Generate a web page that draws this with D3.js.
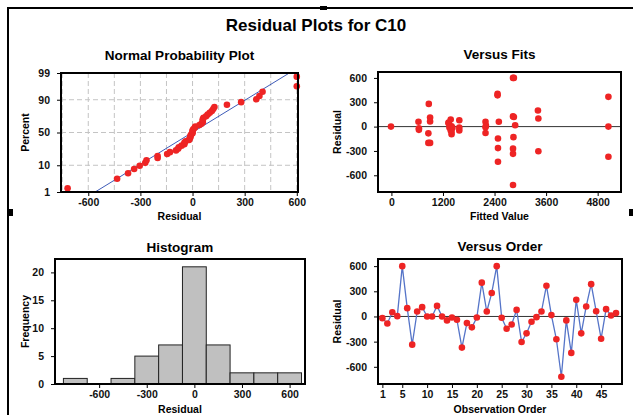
<!DOCTYPE html>
<html>
<head>
<meta charset="utf-8">
<script src="https://cdn.jsdelivr.net/npm/d3@7"></script>
<style>
  body { margin: 0; background: #fff; }
  svg { display: block; font-family: "Liberation Sans", Arial, sans-serif; }
  .axis text { font-size: 10.5px; font-weight: bold; fill: #111; }
  .axis line { stroke: #000; }
  .ptitle { font-size: 13.5px; font-weight: bold; fill: #000; text-anchor: middle; }
  .atitle { font-size: 10.5px; font-weight: bold; fill: #000; text-anchor: middle; }
</style>
</head>
<body>
<div id="chart"></div>
<script>
// residuals in observation order (read from "Versus Order")
const residuals = [-20, -83, 51, 4, 600, 99, -336, 59, 111, 0,
  0, 126, 0, -47, -12, -40, -371, -79, -130, -12,
  403, 59, 280, 600, -16, -146, -95, 78, -304, -201,
  -63, -8, 59, 367, 16, -272, -719, -47, -434, 198,
  -201, 119, 385, 63, -265, 87, 12, 40];
// fitted values for the same observations (read from "Versus Fits")
const fits = [640, 860, 1330, 1400, 2830, 3420, 2830, 630, 900, -10,
  5050, 2830, 1380, 1580, 1350, 640, 5050, 2190, 2840, 1580,
  2470, 2190, 870, 2850, 1420, 2480, 1400, 1580, 3420, 860,
  1400, 2190, 2500, 5050, 2880, 2830, 2830, 1380, 2480, 3410,
  900, 2850, 2470, 900, 2480, 1380, 2200, 1330];

const residTicks = [-600, -300, 0, 300, 600];
const pctTicks = [1, 10, 50, 90, 99];
const fitTicks = [0, 1200, 2400, 3600, 4800];
const freqTicks = [0, 5, 10, 15, 20];
const orderTicks = [1, 5, 10, 15, 20, 25, 30, 35, 40, 45];
const histEdges = [-825, -675, -525, -375, -225, -75, 75, 225, 375, 525, 675];

const width = 633;
const height = 415;
const red = '#ee2424';

// inverse normal cdf (Acklam)
function qnorm(p) {
  const a = [-3.969683028665376e+01, 2.209460984245205e+02, -2.759285104469687e+02, 1.383577518672690e+02, -3.066479806614716e+01, 2.506628277459239e+00];
  const b = [-5.447609879822406e+01, 1.615858368580409e+02, -1.556989798598866e+02, 6.680131188771972e+01, -1.328068155288572e+01];
  const c = [-7.784894002430293e-03, -3.223964580411365e-01, -2.400758277161838e+00, -2.549732539343734e+00, 4.374664141464968e+00, 2.938163982698783e+00];
  const d = [7.784695709041462e-03, 3.224671290700398e-01, 2.445134137142996e+00, 3.754408661907416e+00];
  const pl = 0.02425;
  if (p < pl) {
    const q = Math.sqrt(-2 * Math.log(p));
    return (((((c[0]*q+c[1])*q+c[2])*q+c[3])*q+c[4])*q+c[5]) / ((((d[0]*q+d[1])*q+d[2])*q+d[3])*q+1);
  }
  if (p > 1 - pl) {
    const q = Math.sqrt(-2 * Math.log(1 - p));
    return -(((((c[0]*q+c[1])*q+c[2])*q+c[3])*q+c[4])*q+c[5]) / ((((d[0]*q+d[1])*q+d[2])*q+d[3])*q+1);
  }
  const q = p - 0.5, r = q * q;
  return (((((a[0]*r+a[1])*r+a[2])*r+a[3])*r+a[4])*r+a[5])*q / (((((b[0]*r+b[1])*r+b[2])*r+b[3])*r+b[4])*r+1);
}

const svg = d3.select('#chart').append('svg')
  .attr('width', width)
  .attr('height', height);

// graph window frame + handles
svg.append('path')
  .attr('d', 'M8,' + height + 'V8H' + width)
  .attr('fill', 'none')
  .attr('stroke', '#000')
  .attr('stroke-width', 2);
[[320, 6, 7, 4], [8, 209, 5, 7], [629, 209, 4, 7]].forEach(r => {
  svg.append('rect').attr('x', r[0]).attr('y', r[1]).attr('width', r[2]).attr('height', r[3]).attr('fill', '#000');
});

svg.append('text')
  .attr('x', 316).attr('y', 31)
  .attr('text-anchor', 'middle')
  .style('font-size', '17px').style('font-weight', 'bold')
  .text('Residual Plots for C10');

// plain labels, hyphen minus, no thousands comma
const plain = d => String(d);

// common panel scaffolding
function panel(box, x, y, xTicks, yTicks, title, xLabel, yLabel, titleY, xLabelY, yLabelX, yFormat) {
  const g = svg.append('g');
  const xaxis = d3.axisBottom(x).tickValues(xTicks).tickFormat(plain).tickSize(4).tickPadding(3);
  const yaxis = d3.axisLeft(y).tickValues(yTicks).tickFormat(yFormat || plain).tickSize(4).tickPadding(7);
  g.append('g').attr('class', 'axis')
    .attr('transform', 'translate(0,' + box.y1 + ')')
    .call(xaxis)
    .call(s => s.select('.domain').remove());
  g.append('g').attr('class', 'axis')
    .attr('transform', 'translate(' + box.x0 + ',0)')
    .call(yaxis)
    .call(s => s.select('.domain').remove());
  g.append('text').attr('class', 'ptitle')
    .attr('x', (box.x0 + box.x1) / 2).attr('y', titleY).text(title);
  g.append('text').attr('class', 'atitle')
    .attr('x', (box.x0 + box.x1) / 2).attr('y', xLabelY).text(xLabel);
  g.append('text').attr('class', 'atitle')
    .attr('transform', 'translate(' + yLabelX + ',' + (box.y0 + box.y1) / 2 + ') rotate(-90)')
    .text(yLabel);
  return g;
}

function frame(g, box) {
  g.append('rect')
    .attr('x', box.x0).attr('y', box.y0)
    .attr('width', box.x1 - box.x0).attr('height', box.y1 - box.y0)
    .attr('fill', 'none').attr('stroke', '#000').attr('stroke-width', 2);
}

// ---- Normal Probability Plot
{
  const box = {x0: 61, x1: 298, y0: 73, y1: 192};
  const x = d3.scaleLinear().domain([-757, 607]).range([box.x0, box.x1]);
  const y = d3.scaleLinear().domain([qnorm(0.01), qnorm(0.99)]).range([box.y1, box.y0]);
  const zTicks = pctTicks.map(p => qnorm(p / 100));
  const g = panel(box, x, y, residTicks, zTicks,
    'Normal Probability Plot', 'Residual', 'Percent', 59.5, 220, 28.5,
    z => pctTicks[zTicks.indexOf(z)]);

  g.append('g').selectAll('line').data(d3.range(-750, 601, 150)).join('line')
    .attr('x1', d => x(d)).attr('x2', d => x(d))
    .attr('y1', box.y0).attr('y2', box.y1)
    .attr('stroke', '#c4c4c4').attr('stroke-dasharray', '5,3');
  g.append('g').selectAll('line').data(pctTicks.slice(1, 4)).join('line')
    .attr('x1', box.x0).attr('x2', box.x1)
    .attr('y1', d => y(qnorm(d / 100))).attr('y2', d => y(qnorm(d / 100)))
    .attr('stroke', '#c4c4c4').attr('stroke-dasharray', '5,3');

  const mean = d3.mean(residuals);
  const sd = d3.deviation(residuals);
  const zr = y.domain();
  g.append('line')
    .attr('x1', x(mean + zr[0] * sd)).attr('y1', y(zr[0]))
    .attr('x2', x(mean + zr[1] * sd)).attr('y2', y(zr[1]))
    .attr('stroke', '#2848b0').attr('stroke-width', 0.9);

  const n = residuals.length;
  const sorted = residuals.slice().sort(d3.ascending);
  g.append('g').selectAll('circle').data(sorted).join('circle')
    .attr('cx', d => x(d))
    .attr('cy', (d, i) => y(qnorm((i + 1 - 0.3) / (n + 0.4))))
    .attr('r', 3.3).attr('fill', red);
  frame(g, box);
}

// ---- Versus Fits
{
  const box = {x0: 378, x1: 621, y0: 72, y1: 192};
  const x = d3.scaleLinear().domain([-312, 5343]).range([box.x0, box.x1]);
  const y = d3.scaleLinear().domain([-806, 673]).range([box.y1, box.y0]);
  const g = panel(box, x, y, fitTicks, residTicks,
    'Versus Fits', 'Fitted Value', 'Residual', 59, 220, 341);
  g.append('line')
    .attr('x1', box.x0).attr('x2', box.x1)
    .attr('y1', y(0)).attr('y2', y(0))
    .attr('stroke', '#333').attr('stroke-width', 1);
  g.append('g').selectAll('circle').data(residuals).join('circle')
    .attr('cx', (d, i) => x(fits[i]))
    .attr('cy', d => y(d))
    .attr('r', 3.3).attr('fill', red);
  frame(g, box);
}

// ---- Histogram
{
  const box = {x0: 55, x1: 305, y0: 259, y1: 384};
  const x = d3.scaleLinear().domain([-878, 697]).range([box.x0, box.x1]);
  const y = d3.scaleLinear().domain([0, 22.4]).range([box.y1, box.y0]);
  const g = panel(box, x, y, residTicks, freqTicks,
    'Histogram', 'Residual', 'Frequency', 252, 413, 28.5);
  const bins = d3.bin()
    .domain([histEdges[0], histEdges[histEdges.length - 1]])
    .thresholds(histEdges.slice(1, -1))(residuals);
  g.append('g').selectAll('rect').data(bins.filter(b => b.length > 0)).join('rect')
    .attr('x', b => x(b.x0))
    .attr('y', b => y(b.length))
    .attr('width', b => x(b.x1) - x(b.x0))
    .attr('height', b => y(0) - y(b.length))
    .attr('fill', '#c0c0c0').attr('stroke', '#222').attr('stroke-width', 1);
  frame(g, box);
}

// ---- Versus Order
{
  const box = {x0: 378, x1: 622, y0: 259, y1: 384};
  const x = d3.scaleLinear().domain([0.12, 49.2]).range([box.x0, box.x1]);
  const y = d3.scaleLinear().domain([-805, 685]).range([box.y1, box.y0]);
  const g = panel(box, x, y, orderTicks, residTicks,
    'Versus Order', 'Observation Order', 'Residual', 251, 413, 341);
  g.append('line')
    .attr('x1', box.x0).attr('x2', box.x1)
    .attr('y1', y(0)).attr('y2', y(0))
    .attr('stroke', '#333').attr('stroke-width', 1);
  g.append('path')
    .datum(residuals)
    .attr('fill', 'none')
    .attr('stroke', '#5574c8').attr('stroke-width', 1.3)
    .attr('d', d3.line()
      .x((d, i) => x(i + 1))
      .y(d => y(d)));
  g.append('g').selectAll('circle').data(residuals).join('circle')
    .attr('cx', (d, i) => x(i + 1))
    .attr('cy', d => y(d))
    .attr('r', 3.3).attr('fill', red);
  frame(g, box);
}
</script>
</body>
</html>
